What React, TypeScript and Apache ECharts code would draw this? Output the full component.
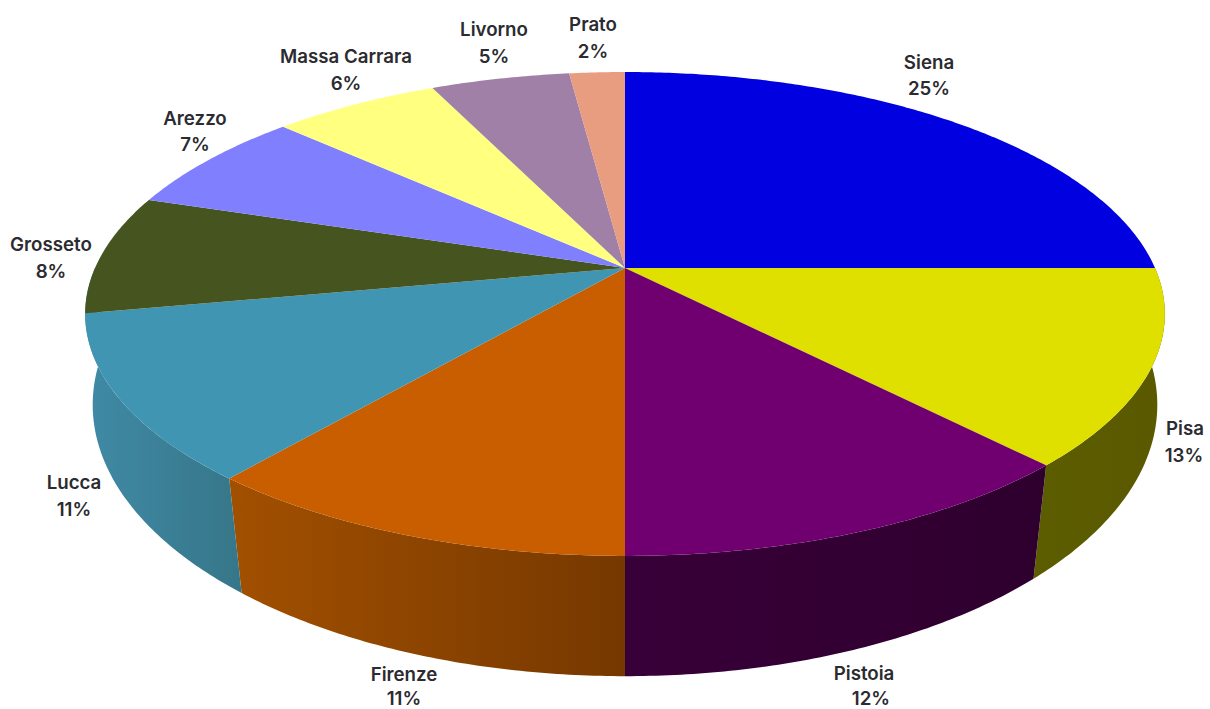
import React, { useEffect, useRef } from "react";
import * as echarts from "echarts";

// Share of each province, clockwise from twelve o'clock.
const provinces = ["Siena", "Pisa", "Pistoia", "Firenze", "Lucca", "Grosseto", "Arezzo", "Massa Carrara", "Livorno", "Prato"];
const shares = [25, 13, 12, 11, 11, 8, 7, 6, 5, 2];

const topColors = ["#0000e0", "#e0e000", "#700070", "#c85e00", "#4096b2", "#465420", "#8080ff", "#ffff80", "#a080a6", "#e89c80"];
// Left and right stops of the shaded rim; slices on the far side have no visible rim.
const wallLeft = ["#000070", "#5c5c00", "#380038", "#a25000", "#408aa6", "#232a10", "#404080", "#808040", "#504053", "#744e40"];
const wallRight = ["#000070", "#5a5900", "#2e002e", "#763800", "#367688", "#232a10", "#404080", "#808040", "#504053", "#744e40"];

// Name and percentage anchors of each label: [nameX, nameY, percentX, percentY].
const labelAnchors = [
  [929, 62, 929, 88],
  [1185, 428, 1184, 455],
  [864, 673, 871, 698],
  [404, 674, 404, 698],
  [74, 482, 74, 509],
  [51, 244, 51, 271],
  [195, 118, 195, 144],
  [346, 56, 346, 83],
  [494, 29, 494, 56],
  [593, 24, 593, 51],
];

// Projection of the disc: the far edge is foreshortened by the perspective term k.
const topFace = { cx: 625, cy: 268, a: 530, b: 233.2, k: 0.19 };
const bottomFace = { cx: 625, cy: 360, a: 525, b: 264, k: 0.165 };
const LABEL_FONT = '600 18.7px Inter, "Noto Sans", sans-serif';

type Face = typeof topFace;

const project = (f: Face, theta: number): number[] => {
  const w = 1 + f.k * Math.cos(theta);
  return [f.cx + (f.a * Math.sin(theta)) / w, f.cy - (f.b * Math.cos(theta)) / w];
};

const arc = (f: Face, from: number, to: number): number[][] => {
  const steps = Math.max(2, Math.ceil(Math.abs(to - from) / 0.01));
  const pts: number[][] = [];
  for (let i = 0; i <= steps; i++) pts.push(project(f, from + ((to - from) * i) / steps));
  return pts;
};

const total = shares.reduce((s, v) => s + v, 0);
const sliceAngles = (index: number): number[] => {
  const before = shares.slice(0, index).reduce((s, v) => s + v, 0);
  return [(before / total) * Math.PI * 2, ((before + shares[index]) / total) * Math.PI * 2];
};

const QUARTER = Math.PI / 2;
const facesViewer = (index: number): boolean => {
  const [start, end] = sliceAngles(index);
  const mid = (start + end) / 2;
  return mid > QUARTER && mid < 3 * QUARTER;
};

const renderWall = (params: any) => {
  const i = params.dataIndex;
  if (!facesViewer(i)) return null;
  const [start, end] = sliceAngles(i);
  // The last slice facing the viewer carries the rim round to the silhouette.
  const to = facesViewer(i + 1) ? end : 3 * QUARTER;
  return {
    type: "polygon",
    shape: { points: [...arc(topFace, start, to), ...arc(bottomFace, to, start)] },
    style: {
      fill: new echarts.graphic.LinearGradient(0, 0, 1, 0, [
        { offset: 0, color: wallLeft[i] },
        { offset: 1, color: wallRight[i] },
      ]),
    },
  };
};

const renderSlice = (params: any) => {
  const i = params.dataIndex;
  const [start, end] = sliceAngles(i);
  const [nx, ny, px, py] = labelAnchors[i];
  const text = (content: string, x: number, y: number) => ({
    type: "text",
    style: { text: content, x, y, font: LABEL_FONT, fill: "#2b2b30", textAlign: "center", textVerticalAlign: "middle" },
  });
  return {
    type: "group",
    children: [
      {
        type: "polygon",
        shape: { points: [[topFace.cx, topFace.cy], ...arc(topFace, start, end)] },
        style: { fill: topColors[i] },
      },
      text(provinces[i], nx, ny),
      text(`${shares[i]}%`, px, py),
    ],
  };
};

export default function App() {
  const ref = useRef<HTMLDivElement>(null);
  useEffect(() => {
    const chart = echarts.init(ref.current!, undefined, { renderer: "svg" });
    chart.setOption({
      animation: false,
      backgroundColor: "#ffffff",
      series: [
        { type: "custom", coordinateSystem: "none", silent: true, data: shares, renderItem: renderWall },
        { type: "custom", coordinateSystem: "none", silent: true, data: shares, renderItem: renderSlice },
      ],
    });
    return () => chart.dispose();
  }, []);
  return <div ref={ref} style={{ position: "fixed", left: 0, top: 0, width: 1210, height: 709 }} />;
}
